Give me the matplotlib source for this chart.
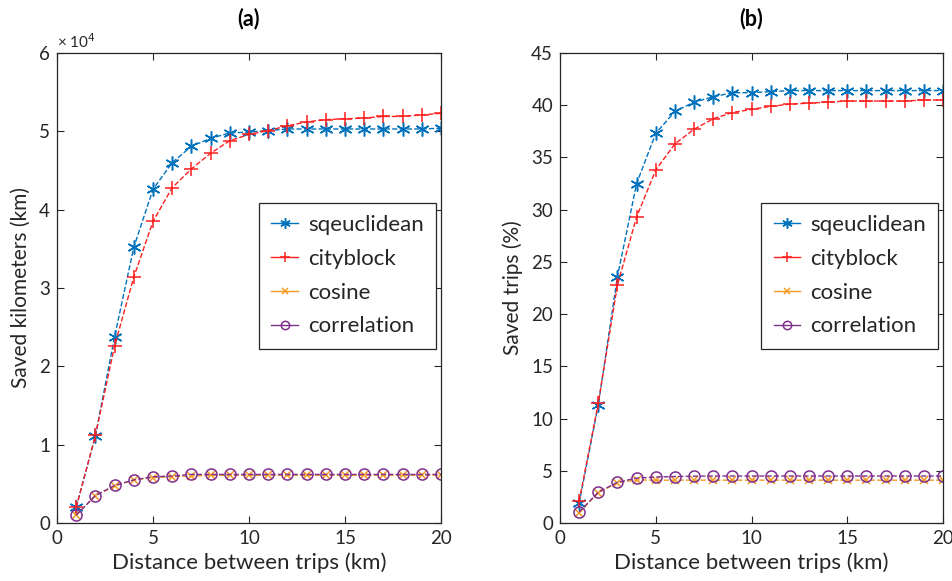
import matplotlib
matplotlib.use("Agg")
import matplotlib.pyplot as plt
from matplotlib.lines import Line2D

plt.rcParams['font.family'] = ['Lato', 'DejaVu Sans']

distance = list(range(1, 21))

# Panel (a): saved kilometers (x 10^4)
km_sqeuclidean = [0.20, 1.11, 2.38, 3.52, 4.26, 4.60, 4.81, 4.91, 4.98, 4.99,
                  5.01, 5.03, 5.03, 5.03, 5.03, 5.03, 5.03, 5.03, 5.03, 5.04]
km_cityblock = [0.20, 1.12, 2.26, 3.14, 3.85, 4.28, 4.52, 4.72, 4.88, 4.96,
                5.01, 5.07, 5.12, 5.15, 5.16, 5.17, 5.19, 5.19, 5.21, 5.23]
km_cosine = [0.10, 0.35, 0.47, 0.55, 0.58, 0.59, 0.60, 0.61, 0.61, 0.61,
             0.61, 0.61, 0.61, 0.61, 0.61, 0.61, 0.61, 0.61, 0.61, 0.61]
km_correlation = [0.10, 0.35, 0.48, 0.55, 0.59, 0.60, 0.62, 0.62, 0.62, 0.62,
                  0.62, 0.62, 0.62, 0.62, 0.62, 0.62, 0.62, 0.62, 0.62, 0.62]

# Panel (b): saved trips (%)
tr_sqeuclidean = [1.9, 11.3, 23.6, 32.5, 37.3, 39.4, 40.3, 40.8, 41.2, 41.2,
                  41.3, 41.4, 41.4, 41.4, 41.4, 41.4, 41.4, 41.4, 41.4, 41.4]
tr_cityblock = [2.1, 11.5, 22.8, 29.3, 33.8, 36.3, 37.7, 38.7, 39.3, 39.6,
                39.9, 40.1, 40.2, 40.3, 40.4, 40.4, 40.4, 40.4, 40.5, 40.5]
tr_cosine = [1.0, 2.9, 3.85, 4.12, 4.1, 4.1, 4.1, 4.1, 4.1, 4.1,
             4.1, 4.1, 4.1, 4.1, 4.1, 4.1, 4.1, 4.1, 4.1, 4.1]
tr_correlation = [1.05, 2.95, 3.9, 4.3, 4.4, 4.45, 4.48, 4.5, 4.5, 4.5,
                  4.5, 4.5, 4.5, 4.5, 4.5, 4.5, 4.5, 4.5, 4.5, 4.5]

labels = ['sqeuclidean', 'cityblock', 'cosine', 'correlation']
colors = ['#0072BD', '#FF1F1F', '#F59A23', '#7E2F8E']
markers = [(6, 2, 0), '+', 'x', 'o']

TXT = '#262626'

fig = plt.figure(figsize=(9.52, 5.81), dpi=100)
axA = fig.add_axes([57/952, 58/581, 384/952, 470/581])
axB = fig.add_axes([560/952, 58/581, 383/952, 470/581])


def mstyle(m, big):
    s = 1.0 if big else 0.75
    if m == 'o':
        return dict(markersize=8 * s, markeredgewidth=1.1, markerfacecolor='none')
    if m == 'x':
        return dict(markersize=6 * s, markeredgewidth=1.1)
    if m == '+':
        return dict(markersize=10 * s, markeredgewidth=1.1)
    return dict(markersize=10 * s, markeredgewidth=1.1)


def draw(ax, series, ylim, yticks, ylabel, title):
    for ys, lab, c, m in zip(series, labels, colors, markers):
        ax.plot(distance, ys, linestyle='--', linewidth=1.0, color=c,
                marker=m, **mstyle(m, True))
    ax.set_xlim(0, 20)
    ax.set_ylim(*ylim)
    ax.set_xticks([0, 5, 10, 15, 20])
    ax.set_yticks(yticks)
    ax.tick_params(direction='in', top=True, right=True, length=5,
                   width=0.8, labelsize=13.5, colors=TXT, pad=5)
    for s in ax.spines.values():
        s.set_color(TXT)
        s.set_linewidth(0.9)
    ax.set_xlabel('Distance between trips (km)', fontsize=16, color=TXT, labelpad=4)
    ax.set_ylabel(ylabel, fontsize=15, color=TXT, labelpad=6)
    ax.set_title(title, fontsize=15.5, fontweight='bold', color='black', pad=20)
    handles = [Line2D([], [], color=c, linestyle='-', linewidth=1.0,
                      marker=m, label=lab, **mstyle(m, False))
               for lab, c, m in zip(labels, colors, markers)]
    leg = ax.legend(handles=handles, loc='upper left',
                    bbox_to_anchor=(0.526, 0.681), fontsize=16,
                    frameon=True, fancybox=False, framealpha=1,
                    edgecolor=TXT, handlelength=1.2, borderpad=0.55,
                    labelspacing=0.62, handletextpad=0.45,
                    borderaxespad=0.0)
    leg.get_frame().set_linewidth(0.9)
    for t in leg.get_texts():
        t.set_color(TXT)


draw(axA, [km_sqeuclidean, km_cityblock, km_cosine, km_correlation],
     (0, 6), [0, 1, 2, 3, 4, 5, 6], 'Saved kilometers (km)', '(a)')
axA.text(0.0, 1.005, r'× 10$^{4}$', transform=axA.transAxes, fontsize=11,
         color=TXT, ha='left', va='bottom')

draw(axB, [tr_sqeuclidean, tr_cityblock, tr_cosine, tr_correlation],
     (0, 45), [0, 5, 10, 15, 20, 25, 30, 35, 40, 45], 'Saved trips (%)', '(b)')

fig.savefig('out.png', dpi=100)
